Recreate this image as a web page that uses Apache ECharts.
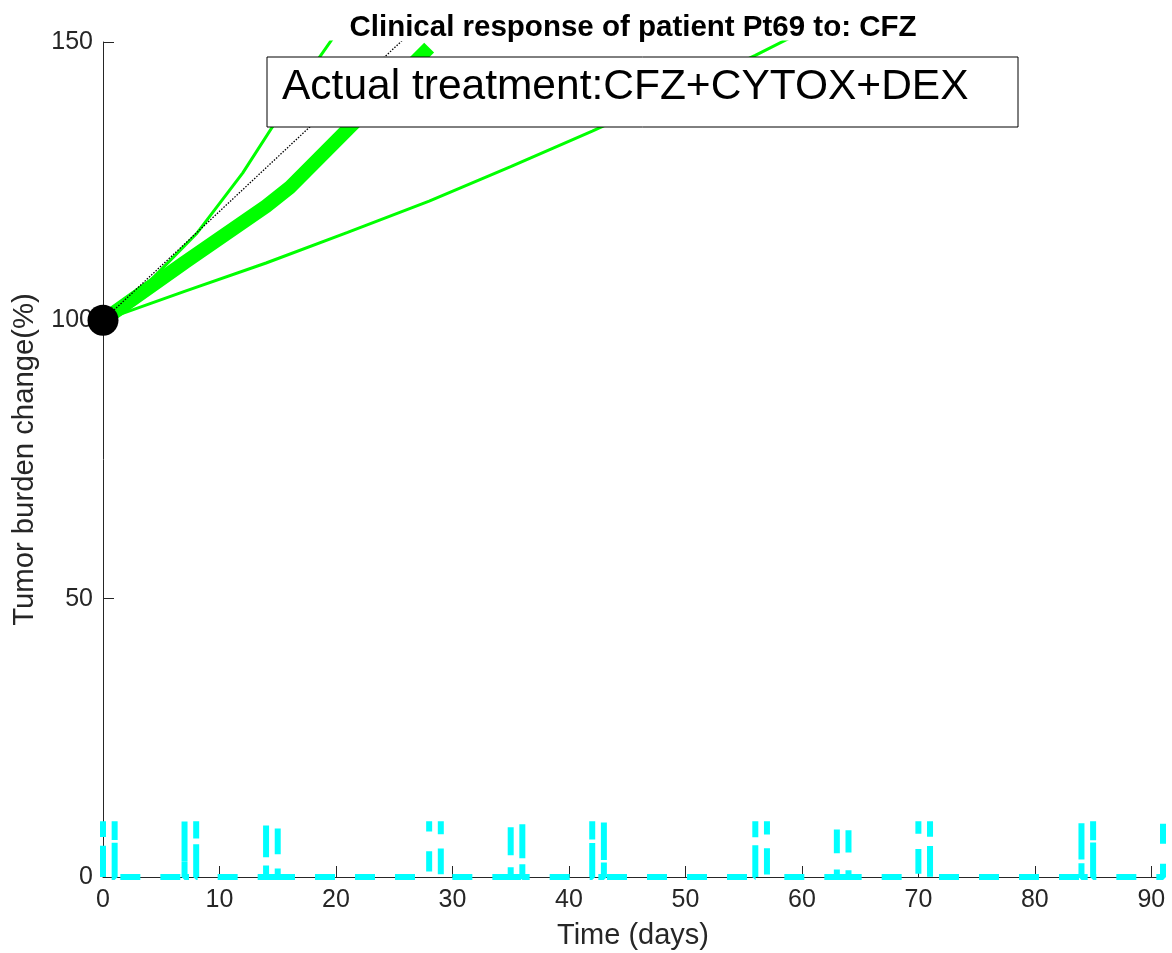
<!DOCTYPE html>
<html>
<head>
<meta charset="utf-8">
<title>Clinical response of patient Pt69</title>
<script src="https://cdn.jsdelivr.net/npm/echarts@6.0.0/dist/echarts.min.js"></script>
<style>
  html, body { margin: 0; padding: 0; background: #fff; }
  #main { width: 1172px; height: 953px; }
</style>
</head>
<body>
<div id="main"></div>
<script>
// axis ticks
const xTicks = [0, 10, 20, 30, 40, 50, 60, 70, 80, 90]
const yTicks = [0, 50, 100, 150]

// simulated responses (days, tumor burden %)
const upperDays = [0, 4, 8, 12, 16, 20, 24, 28]
const upperVals = [100, 107, 115.5, 126.5, 139.5, 151.5, 164, 177]
const lowerDays = [0, 7, 14, 21, 28, 35, 42, 49, 56, 63]
const lowerVals = [100, 105.2, 110.3, 115.8, 121.4, 127.6, 134, 140.7, 147.6, 155]
const thickDays = [0, 7, 14, 16, 21, 28]
const thickVals = [100, 110.4, 120.5, 123.8, 134.3, 149]
const dottedDays = [0, 7, 14, 21, 28]
const dottedVals = [100, 113.7, 127.4, 141.1, 154.8]

// CFZ dosing days (days 1,2,8,9,15,16 of each 28 day cycle)
const doseDays = [0, 1, 7, 8, 14, 15, 28, 29, 35, 36, 42, 43, 56, 57, 63, 64, 70, 71, 84, 85, 91]
const doseLevel = 10

// measured start point
const startPoint = [0, 100]

function pairs(xs, ys) {
  return xs.map((x, i) => [x, ys[i]])
}

// vertical pulse at each dose day, back to zero in between
function dosePath() {
  let pts = []
  doseDays.forEach((d, i) => {
    pts.push([d, 0], [d, doseLevel])
    if (i < doseDays.length - 1) pts.push([d, 0])
  })
  return pts
}

const axisColor = '#262626'
const font = 'Liberation Sans, Arial, Helvetica, sans-serif'

let option = {
  animation: false,
  textStyle: { fontFamily: font },
  title: {
    text: 'Clinical response of patient Pt69 to: CFZ',
    left: 628,
    top: 8,
    textAlign: 'center',
    textStyle: { fontSize: 29.5, fontWeight: 'bold', color: '#000', fontFamily: font }
  },
  grid: {
    left: 103,
    right: 9,
    top: 42,
    bottom: 76,
    containLabel: false,
    outerBoundsMode: 'none'
  },
  xAxis: {
    type: 'value',
    min: 0,
    max: 91,
    interval: 10,
    name: 'Time (days)',
    nameLocation: 'middle',
    nameGap: 44,
    nameTextStyle: { fontSize: 29, color: axisColor, fontFamily: font },
    axisLine: { lineStyle: { color: axisColor, width: 1 } },
    axisTick: { inside: true, length: 11, customValues: xTicks, lineStyle: { color: axisColor } },
    axisLabel: { customValues: xTicks, fontSize: 25, color: axisColor, margin: 11, fontFamily: font },
    splitLine: { show: false }
  },
  yAxis: {
    type: 'value',
    min: 0,
    max: 150,
    interval: 50,
    name: 'Tumor burden change(%)',
    nameLocation: 'middle',
    nameGap: 64,
    nameTextStyle: { fontSize: 29.3, color: axisColor, fontFamily: font },
    axisLine: { show: true, lineStyle: { color: axisColor, width: 1 } },
    axisTick: { show: true, inside: true, length: 11, customValues: yTicks, lineStyle: { color: axisColor } },
    axisLabel: { customValues: yTicks, fontSize: 25, color: axisColor, margin: 10, fontFamily: font },
    splitLine: { show: false }
  },
  graphic: [{
    type: 'rect',
    z: 100,
    shape: { x: 267, y: 57, width: 751, height: 70 },
    style: { fill: '#fff', stroke: '#000', lineWidth: 1 }
  }, {
    type: 'text',
    z: 101,
    x: 282,
    y: 87,
    style: {
      text: 'Actual treatment:CFZ+CYTOX+DEX',
      font: '42.5px ' + font,
      fill: '#000',
      verticalAlign: 'middle'
    }
  }],
  series: [{
    type: 'line',
    name: 'upper',
    data: pairs(upperDays, upperVals),
    showSymbol: false,
    lineStyle: { color: '#00ff00', width: 3 },
    z: 3
  }, {
    type: 'line',
    name: 'lower',
    data: pairs(lowerDays, lowerVals),
    showSymbol: false,
    lineStyle: { color: '#00ff00', width: 3 },
    z: 3
  }, {
    type: 'line',
    name: 'best fit',
    data: pairs(thickDays, thickVals),
    showSymbol: false,
    lineStyle: { color: '#00ff00', width: 14 },
    z: 4
  }, {
    type: 'line',
    name: 'median',
    data: pairs(dottedDays, dottedVals),
    showSymbol: false,
    lineStyle: { color: '#000', width: 1.3, type: [1.5, 1.5] },
    z: 5
  }, {
    type: 'line',
    name: 'CFZ',
    data: dosePath(),
    showSymbol: false,
    clip: false,
    lineStyle: { color: '#00ffff', width: 6, type: [20, 20] },
    z: 6
  }, {
    type: 'scatter',
    data: [startPoint],
    symbol: 'circle',
    symbolSize: 31,
    clip: false,
    itemStyle: { color: '#000', opacity: 1 },
    z: 7
  }]
}

let myChart = echarts.init(document.getElementById('main'))
myChart.setOption(option)
</script>
</body>
</html>
